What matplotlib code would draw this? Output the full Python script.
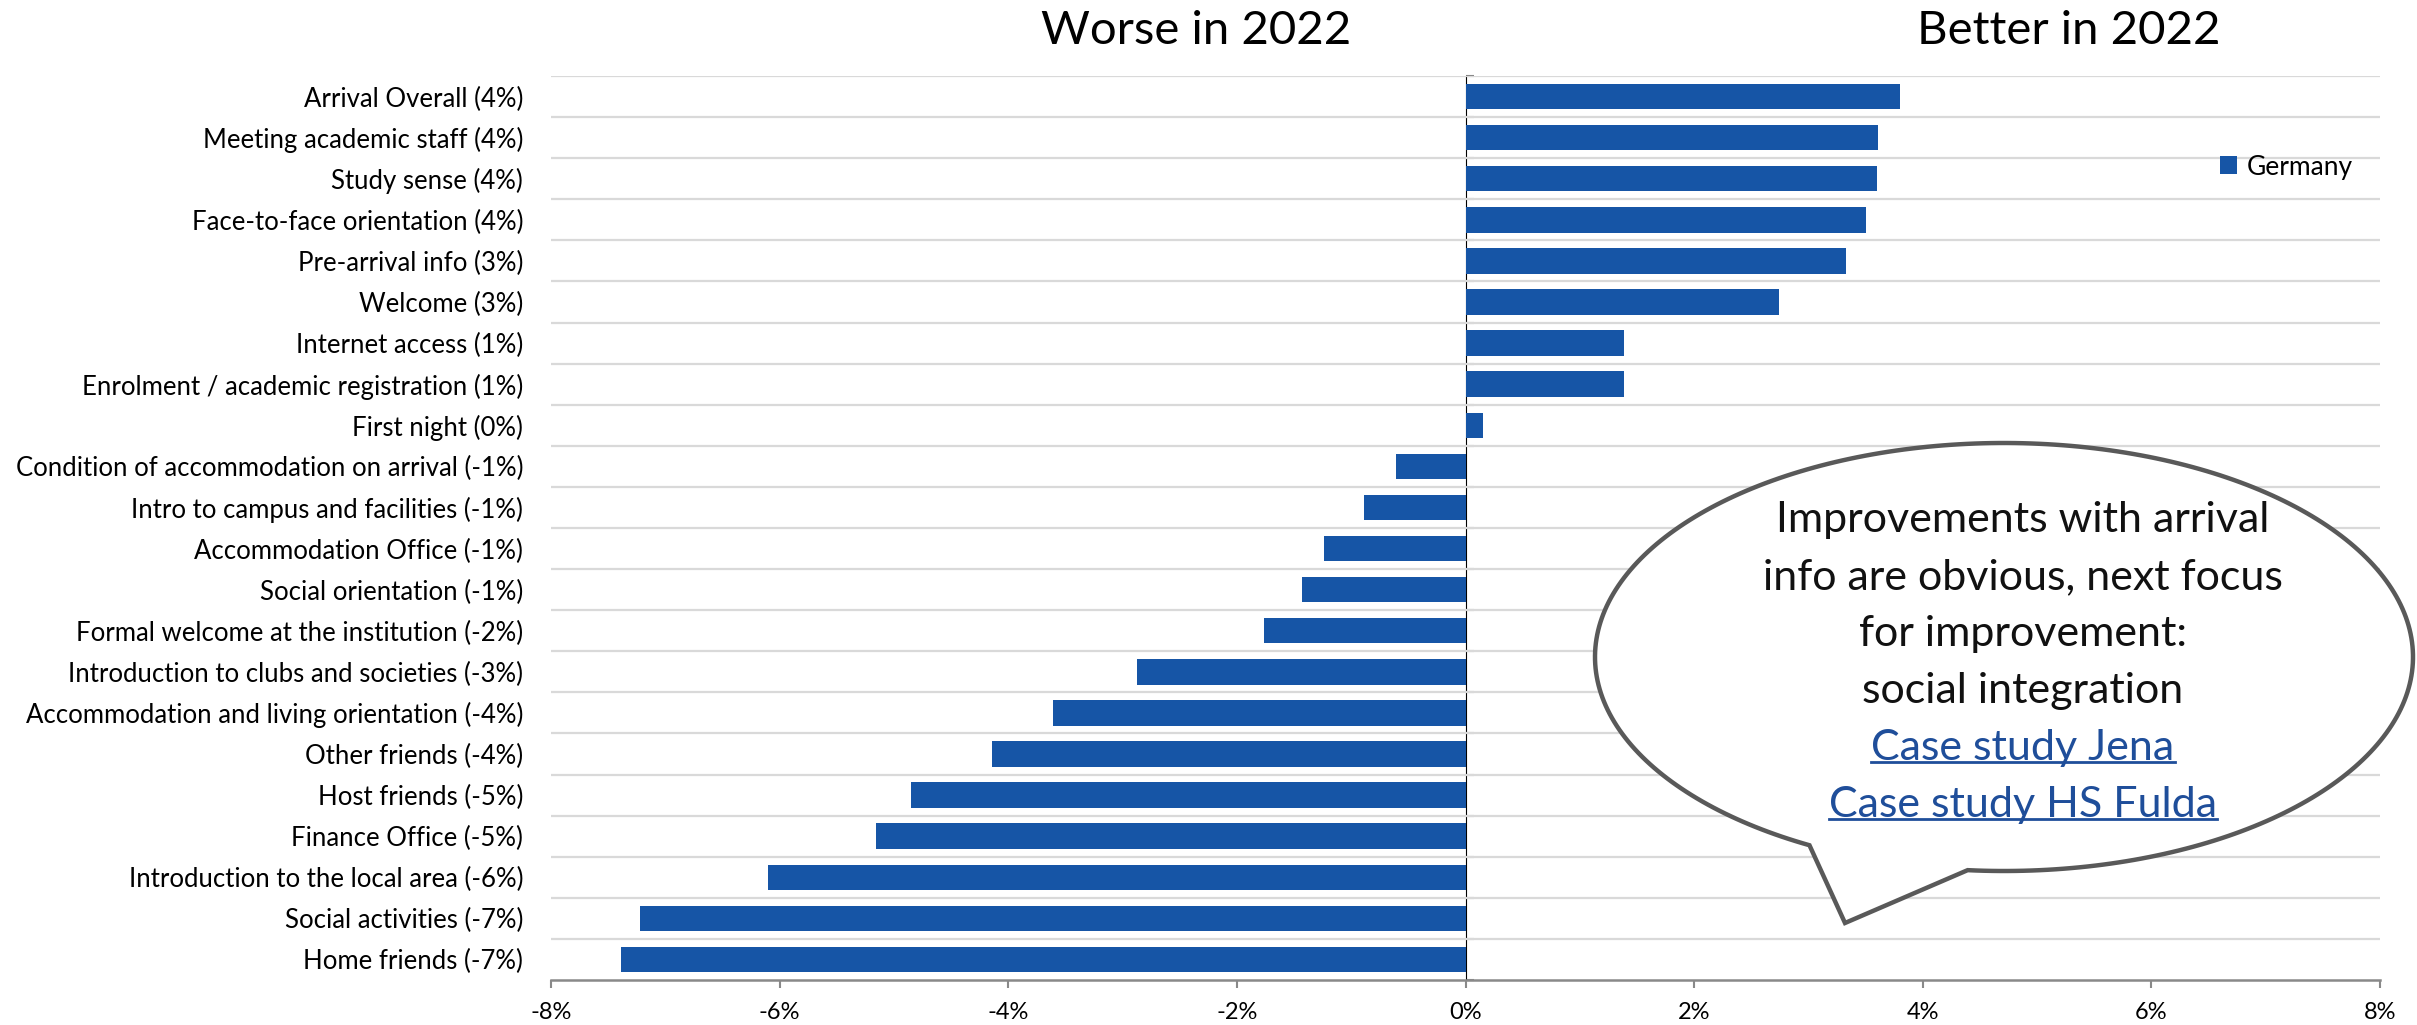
import numpy as np
import matplotlib as mpl
mpl.use("Agg")
import matplotlib.pyplot as plt
from matplotlib.path import Path
from matplotlib.patches import PathPatch
from matplotlib.lines import Line2D
from matplotlib.ticker import FuncFormatter

plt.rcParams["font.family"] = ["Lato", "DejaVu Sans"]
plt.rcParams["axes.unicode_minus"] = False

categories = [
    "Arrival Overall (4%)",
    "Meeting academic staff (4%)",
    "Study sense (4%)",
    "Face-to-face orientation (4%)",
    "Pre-arrival info (3%)",
    "Welcome (3%)",
    "Internet access (1%)",
    "Enrolment / academic registration (1%)",
    "First night (0%)",
    "Condition of accommodation on arrival (-1%)",
    "Intro to campus and facilities (-1%)",
    "Accommodation Office (-1%)",
    "Social orientation (-1%)",
    "Formal welcome at the institution (-2%)",
    "Introduction to clubs and societies (-3%)",
    "Accommodation and living orientation (-4%)",
    "Other friends (-4%)",
    "Host friends (-5%)",
    "Finance Office (-5%)",
    "Introduction to the local area (-6%)",
    "Social activities (-7%)",
    "Home friends (-7%)",
]
# change 2022 vs previous year, in percent
germany = [3.80, 3.61, 3.60, 3.50, 3.33, 2.74, 1.39, 1.39, 0.15,
           -0.61, -0.89, -1.24, -1.43, -1.76, -2.87, -3.61,
           -4.14, -4.85, -5.16, -6.10, -7.22, -7.39]
x_ticks = [-8, -6, -4, -2, 0, 2, 4, 6, 8]

bubble_lines = [
    "Improvements with arrival",
    "info are obvious, next focus",
    "for improvement:",
    "social integration",
]
bubble_links = ["Case study Jena", "Case study HS Fulda"]

BLUE = "#1655A6"
GREY = "#898989"
LINK = "#1F4E9A"
W, H = 2417, 1025

fig = plt.figure(figsize=(W / 100, H / 100), dpi=100)
ax = fig.add_axes([551 / W, 1 - 980 / H, (2380 - 551) / W, (980 - 76) / H])

y = np.arange(len(categories))
ax.barh(y, germany, height=0.62, color=BLUE, label="Germany", zorder=3)

ax.set_xlim(-8, 8)
ax.set_ylim(len(categories) - 0.5, -0.5)
ax.set_xticks(x_ticks)
ax.xaxis.set_major_formatter(FuncFormatter(lambda v, _: f"{v:.0f}%"))
ax.set_yticks(y, categories)
ax.tick_params(axis="y", length=0, pad=20, labelsize=18.5)
ax.tick_params(axis="x", length=6, width=1.5, color=GREY, pad=10, labelsize=17)

# horizontal separators between categories
for b in np.arange(len(categories)) - 0.5:
    ax.axhline(b, color="#D9D9D9", lw=1.6, zorder=1)

for side in ["top", "right", "left"]:
    ax.spines[side].set_visible(False)
ax.spines["bottom"].set_color(GREY)
ax.spines["bottom"].set_linewidth(1.8)

# zero axis with small tick marks at the category boundaries
zero_axis = ax.secondary_yaxis(0.5)
zero_axis.set_yticks(np.arange(len(categories) + 1) - 0.5)
zero_axis.set_yticklabels([])
zero_axis.tick_params(length=6, width=1.5, color=GREY, direction="out")
zero_axis.spines["left"].set_color(GREY)
zero_axis.spines["left"].set_linewidth(1.8)

ax.legend(loc="center left", bbox_to_anchor=(2220 / W, 1 - 167 / H),
          bbox_transform=fig.transFigure, frameon=False, fontsize=19,
          handlelength=0.65, handleheight=0.65, handletextpad=0.35,
          borderpad=0, borderaxespad=0)

fig.text(1196 / W, 1 - 44 / H, "Worse in 2022", ha="center", va="baseline",
         fontsize=34)
fig.text(2069 / W, 1 - 44 / H, "Better in 2022", ha="center", va="baseline",
         fontsize=34)

# speech bubble: ellipse with a tail pointing down-left
cx, cy, a, b = 2004, 657, 409, 214
t1, t2 = np.deg2rad(118.4), np.deg2rad(95.1) + 2 * np.pi
t = np.linspace(t1, t2, 300)
px = np.concatenate([cx + a * np.cos(t), [1845]])
py = np.concatenate([cy + b * np.sin(t), [923]])
verts = np.column_stack([px / W, 1 - py / H])
verts = np.vstack([verts, verts[:1]])
codes = [Path.MOVETO] + [Path.LINETO] * (len(verts) - 2) + [Path.CLOSEPOLY]
bubble = PathPatch(Path(verts, codes), transform=fig.transFigure,
                   facecolor="white", edgecolor="#595959", lw=3.2,
                   joinstyle="miter", zorder=10)
fig.add_artist(bubble)

line_y = [520, 577, 634, 691, 748, 805]
for txt, ly in zip(bubble_lines, line_y):
    fig.text(2023 / W, 1 - ly / H, txt, ha="center", va="center",
             fontsize=31, color="#111111", zorder=11)

links = []
for txt, ly in zip(bubble_links, line_y[len(bubble_lines):]):
    links.append(fig.text(2023 / W, 1 - ly / H, txt, ha="center", va="center",
                          fontsize=31, color=LINK, zorder=11))

fig.canvas.draw()
renderer = fig.canvas.get_renderer()
for lt in links:
    bb = lt.get_window_extent(renderer)
    uy = (bb.y0 + 5) / H
    fig.add_artist(Line2D([bb.x0 / W, bb.x1 / W], [uy, uy],
                          transform=fig.transFigure, color=LINK,
                          lw=2.0, zorder=11))

fig.savefig("out.png", dpi=100, facecolor="white")
